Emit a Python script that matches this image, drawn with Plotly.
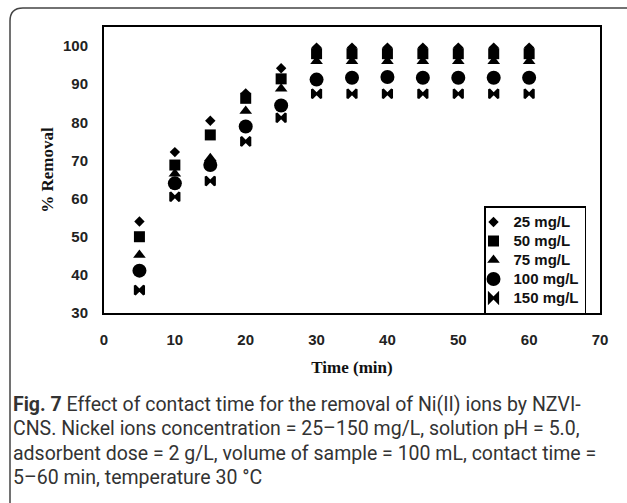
import plotly.graph_objects as go

# ---- data ----
time_min = [5, 10, 15, 20, 25, 30, 35, 40, 45, 50, 55, 60]
c25 = [54.0, 72.2, 80.4, 87.6, 94.2, 99.6, 99.6, 99.6, 99.6, 99.6, 99.6, 99.6]
c50 = [50.0, 68.8, 76.7, 86.3, 91.4, 98.0, 98.0, 98.0, 98.0, 98.0, 98.0, 98.0]
c75 = [45.2, 66.5, 70.6, 83.0, 88.8, 96.0, 96.0, 96.0, 96.0, 96.0, 96.0, 96.0]
c100 = [41.1, 64.0, 68.8, 78.9, 84.4, 91.2, 91.7, 91.9, 91.7, 91.7, 91.7, 91.7]
c150 = [36.0, 60.5, 64.6, 75.0, 81.2, 87.5, 87.5, 87.5, 87.5, 87.5, 87.5, 87.5]
series_names = ["25 mg/L", "50 mg/L", "75 mg/L", "100 mg/L", "150 mg/L"]
series_values = [c25, c50, c75, c100, c150]
symbols = ["diamond", "square", "triangle-up", "circle", "bowtie"]
sizes = [8, 11, 11, 14, 9]
outline = [0, 0, 0, 0, 2.2]
x_ticks = [0, 10, 20, 30, 40, 50, 60, 70]
y_ticks = [30, 40, 50, 60, 70, 80, 90, 100]
caption_lines = [
    "<b>Fig. 7</b> Effect of contact time for the removal of Ni(II) ions by NZVI-",
    "CNS. Nickel ions concentration = 25–150 mg/L, solution pH = 5.0,",
    "adsorbent dose = 2 g/L, volume of sample = 100 mL, contact time =",
    "5–60 min, temperature 30 °C",
]

W, H = 627, 503
L, R, T, B = 104, 27, 27, 190
PW, PH = W - L - R, H - T - B


def px2x(px):
    return (px - L) / PW


def px2y(py):
    return (H - B - py) / PH


fig = go.Figure()
for name, vals, sym, sz, lw in zip(series_names, series_values, symbols, sizes, outline):
    fig.add_trace(go.Scatter(
        x=time_min, y=vals, mode="markers",
        name=f'<span style="font-size:15px">{name}</span>',
        marker=dict(symbol=sym, size=sz, color="black", line=dict(width=lw, color="black")),
    ))

tickfont = dict(family="Liberation Sans, Arial", size=15, color="#222", weight="bold")
titlefont = dict(family="Liberation Serif, Times New Roman", size=17, color="#111", weight="bold")

fig.update_xaxes(
    range=[0, 70], tickvals=x_ticks, showgrid=False, zeroline=False,
    showline=True, linewidth=2, linecolor="black", mirror=True,
    ticks="", ticklabelstandoff=12, tickfont=tickfont,
    title=dict(text="Time (min)", font=titlefont, standoff=14),
)
fig.update_yaxes(
    range=[30, 105], tickvals=y_ticks, showgrid=False, zeroline=False,
    showline=True, linewidth=2, linecolor="black", mirror=True,
    ticks="", ticklabelstandoff=11, tickfont=tickfont,
    title=dict(text="% Removal", font=titlefont, standoff=5),
)

# rounded outer frame
r = 13
x0, y0 = px2x(10), px2y(8)
xr, yb = px2x(W + 20), px2y(H + 20)
rx, ry = r / PW, r / PH
path = (f"M {x0},{yb} L {x0},{y0 - ry} Q {x0},{y0} {x0 + rx},{y0} L {xr},{y0}")
fig.add_shape(type="path", path=path, xref="paper", yref="paper",
              line=dict(color="#444", width=1.5), layer="below")

# caption
cap_y = [404, 428.5, 453, 477.5]
for txt, yy in zip(caption_lines, cap_y):
    fig.add_annotation(text=txt, xref="paper", yref="paper", x=px2x(11), y=px2y(yy),
                       xanchor="left", yanchor="middle", showarrow=False,
                       font=dict(family="Roboto", size=19.5, color="#333"))

fig.update_layout(
    width=W, height=H, margin=dict(l=L, r=R, t=T, b=B, autoexpand=False),
    paper_bgcolor="white", plot_bgcolor="white",
    showlegend=True,
    legend=dict(x=px2x(586), y=px2y(206), xanchor="right", yanchor="top",
                bgcolor="white", bordercolor="black", borderwidth=1.5,
                font=dict(family="Liberation Sans, Arial", size=12, color="#111", weight="bold"),
                tracegroupgap=0, indentation=-12),
)

fig.write_html("out.html")
